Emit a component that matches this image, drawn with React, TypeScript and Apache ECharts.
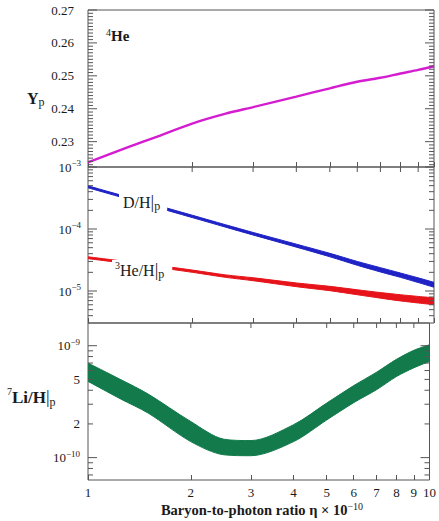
import React, { useEffect, useRef } from "react";
import * as echarts from "echarts";

// ---- data ----
const eta = [1, 1.25, 1.5, 2, 2.5, 3, 4, 5, 6, 7, 8, 9, 10];
const heliumYp = [0.2237, 0.2276, 0.2306, 0.2355, 0.2385, 0.2405, 0.2437, 0.2462, 0.2482, 0.2494, 0.2507, 0.2518, 0.2529];
const deutLow = [4.62e-4, 3.24e-4, 2.42e-4, 1.53e-4, 1.07e-4, 8.0e-5, 5.1e-5, 3.57e-5, 2.6e-5, 2.03e-5, 1.66e-5, 1.37e-5, 1.15e-5];
const deutHigh = [4.97e-4, 3.5e-4, 2.63e-4, 1.67e-4, 1.17e-4, 8.8e-5, 5.7e-5, 4.05e-5, 3.0e-5, 2.38e-5, 1.95e-5, 1.63e-5, 1.38e-5];
const he3Low = [3.327e-5, 2.851e-5, 2.506e-5, 2.004e-5, 1.66e-5, 1.466e-5, 1.175e-5, 1.012e-5, 8.71e-6, 7.67e-6, 6.92e-6, 6.41e-6, 6.01e-6];
const he3High = [3.565e-5, 3.055e-5, 2.698e-5, 2.178e-5, 1.82e-5, 1.637e-5, 1.349e-5, 1.189e-5, 1.047e-5, 9.44e-6, 8.71e-6, 8.18e-6, 7.78e-6];
// 7Li/H in units of 1e-10
const liLow = [4.8, 3.33, 2.5, 1.39, 1.06, 1.04, 1.39, 2.17, 3.1, 4.05, 5.3, 6.35, 7.23];
const liHigh = [7.0, 4.96, 3.7, 2.1, 1.46, 1.42, 1.97, 3.07, 4.4, 5.8, 7.55, 9.1, 10.2];

// tick labels
const xTickLabels = [1, 2, 3, 4, 5, 6, 7, 8, 9, 10];
const heTickLabels = [0.23, 0.24, 0.25, 0.26, 0.27];
const dhTickLabels = [1e-5, 1e-4, 1e-3];
const liTickLabels = [1e-10, 2e-10, 5e-10, 1e-9];

const FONT = "'Liberation Serif', 'Times New Roman', serif";
const AXIS_COLOR = "#555";
const TEXT_COLOR = "#1a1a1a";
const L = Math.log10;
// offset added to log10 values so that all plotted numbers are positive (stacking)
const OFF = 12;
const lg = (v: number) => L(v) + OFF;

const xPos = xTickLabels.map(L);

function logMinors(min: number, max: number) {
  const out: number[] = [];
  for (let d = Math.floor(min) - 1; d <= Math.ceil(max); d++) {
    for (let k = 2; k <= 9; k++) {
      const v = d + L(k);
      if (v > min + 1e-6 && v < max - 1e-6) out.push(v);
    }
  }
  return out;
}

function xAxisFor(g: number, showLabels: boolean) {
  return {
    type: "value",
    gridIndex: g,
    min: 0,
    max: 1,
    position: "bottom",
    splitLine: { show: false },
    axisLine: { show: false, onZero: false },
    axisTick: { show: true, inside: true, length: 5, customValues: xPos, lineStyle: { color: AXIS_COLOR } },
    axisLabel: {
      show: showLabels,
      customValues: xPos,
      formatter: (v: number) => String(Math.round(Math.pow(10, v))),
      margin: 6,
      fontSize: 13,
      fontFamily: FONT,
      color: TEXT_COLOR,
    },
  };
}

function yAxisFor(g: number, min: number, max: number, labels: number[], formatter: (v: number) => string, margin: number, rich?: any) {
  return {
    type: "value",
    gridIndex: g,
    min,
    max,
    position: "left",
    splitLine: { show: false },
    axisLine: { show: false, onZero: false },
    axisTick: { show: false },
    axisLabel: {
      show: true,
      customValues: labels,
      formatter,
      margin,
      fontSize: 13,
      fontFamily: FONT,
      color: TEXT_COLOR,
      rich,
    },
  };
}

const powRich = {
  b: { fontSize: 13, fontFamily: FONT, color: TEXT_COLOR, lineHeight: 17 },
  s: { fontSize: 9, fontFamily: FONT, color: TEXT_COLOR, lineHeight: 9, verticalAlign: "top" },
};

function powLabel(v: number) {
  return `{b|10}{s|−${Math.round(OFF - v)}}`;
}

// Band drawn as a stacked area; rows are [y, x] with encode so that the y value is stacked.
function band(name: string, g: number, low: number[], high: number[], color: string, tf: (v: number) => number) {
  const lowData = eta.map((e, i) => [tf(low[i]), L(e)]);
  const widthData = eta.map((e, i) => [tf(high[i]) - tf(low[i]), L(e)]);
  const common = {
    type: "line",
    xAxisIndex: g,
    yAxisIndex: g,
    encode: { x: 1, y: 0 },
    stack: name,
    smooth: 0.3,
    symbol: "none",
    silent: true,
    lineStyle: { color, width: 1 },
    z: 3,
  };
  return [
    { ...common, name: name + "-low", data: lowData },
    { ...common, name: name + "-band", data: widthData, areaStyle: { color, opacity: 1 } },
  ];
}

// Frame tick marks placed through the axes' scales (api.coord).
// rows: [x, y, len]; len > 0 -> y tick on left and right frame, len < 0 -> x tick hanging from top frame
function tickSeries(g: number, yMajors: number[], yMinors: number[], yMax: number, topX: boolean) {
  const rows: number[][] = [];
  yMajors.forEach((v) => rows.push([0, v, 9]));
  yMinors.forEach((v) => rows.push([0, v, 5]));
  if (topX) xPos.slice(1, -1).forEach((u) => rows.push([u, yMax, -5]));
  return {
    type: "custom",
    xAxisIndex: g,
    yAxisIndex: g,
    silent: true,
    z: 5,
    data: rows,
    renderItem: (_params: any, api: any) => {
      const len = api.value(2);
      if (len > 0) {
        const v = api.value(1);
        const a = api.coord([0, v]);
        const b = api.coord([1, v]);
        return {
          type: "group",
          children: [
            { type: "line", shape: { x1: a[0], y1: a[1], x2: a[0] + len, y2: a[1] }, style: { stroke: AXIS_COLOR, lineWidth: 1 } },
            { type: "line", shape: { x1: b[0] - len, y1: b[1], x2: b[0], y2: b[1] }, style: { stroke: AXIS_COLOR, lineWidth: 1 } },
          ],
        };
      }
      const u = api.value(0);
      const p = api.coord([u, api.value(1)]);
      return {
        type: "group",
        children: [
          { type: "line", shape: { x1: p[0], y1: p[1], x2: p[0], y2: p[1] - len }, style: { stroke: AXIS_COLOR, lineWidth: 1 } },
        ],
      };
    },
  };
}

export default function App() {
  const ref = useRef<HTMLDivElement>(null);

  useEffect(() => {
    if (!ref.current) return;
    const chart = echarts.init(ref.current, undefined, { renderer: "svg" });

    const heMin = 0.2223;
    const heMax = 0.27;
    const heMinors: number[] = [];
    for (let i = 223; i < 270; i++) if (i % 10 !== 0) heMinors.push(i / 1000);

    const dMin = OFF - 5.516;
    const dMax = OFF - 3;
    const liMin = OFF - 10.2;
    const liMax = OFF - 8.797;

    const liFmt = (v: number) => {
      if (Math.abs(v - Math.round(v)) < 1e-6) return powLabel(v);
      return String(Math.round(Math.pow(10, v - OFF + 10)));
    };

    const yAxes = [
      yAxisFor(0, heMin, heMax, heTickLabels, (v) => v.toFixed(2), 14),
      yAxisFor(1, dMin, dMax, dhTickLabels.map(lg), powLabel, 7, powRich),
      yAxisFor(2, liMin, liMax, liTickLabels.map(lg), liFmt, 8, powRich),
    ];

    const xAxes = [xAxisFor(0, false), xAxisFor(1, false), xAxisFor(2, true)];

    const series: any[] = [
      {
        type: "line",
        name: "Yp",
        xAxisIndex: 0,
        yAxisIndex: 0,
        data: eta.map((e, i) => [L(e), heliumYp[i]]),
        smooth: 0.3,
        symbol: "none",
        lineStyle: { color: "#d41cd0", width: 2.4 },
        z: 3,
      },
      ...band("dh", 1, deutLow, deutHigh, "#1f22c4", lg),
      ...band("he3", 1, he3Low, he3High, "#e6141a", lg),
      ...band("li", 2, liLow, liHigh, "#127a4b", (v) => lg(v * 1e-10)),
      tickSeries(0, heTickLabels, heMinors, heMax, false),
      tickSeries(1, dhTickLabels.map(lg), logMinors(dMin, dMax), dMax, true),
      tickSeries(2, [OFF - 10, OFF - 9], logMinors(liMin, liMax), liMax, true),
    ];

    const txt = (extra: any) => ({ type: "text", z: 100, ...extra });
    const gridCommon = { left: 88, width: 346, show: true, borderColor: AXIS_COLOR, borderWidth: 1, backgroundColor: "transparent" };

    const option: any = {
      animation: false,
      grid: [
        { ...gridCommon, top: 10, height: 157 },
        { ...gridCommon, top: 167, height: 156 },
        { ...gridCommon, top: 323, height: 157 },
      ],
      xAxis: xAxes,
      yAxis: yAxes,
      series,
      graphic: {
        elements: [
          txt({
            x: 106,
            y: 36,
            style: {
              text: "{s|4}{b|He}",
              textVerticalAlign: "middle",
              verticalAlign: "middle",
              rich: {
                s: { fontSize: 10, fontFamily: FONT, fill: TEXT_COLOR, verticalAlign: "top", lineHeight: 10 },
                b: { fontSize: 15, fontFamily: FONT, fontWeight: "bold", fill: TEXT_COLOR, lineHeight: 18 },
              },
            },
          }),
          txt({
            x: 27,
            y: 98,
            style: {
              text: "{b|Y}{s|p}",
              textVerticalAlign: "middle",
              verticalAlign: "middle",
              rich: {
                b: { fontSize: 16, fontFamily: FONT, fontWeight: "bold", fill: TEXT_COLOR, lineHeight: 20 },
                s: { fontSize: 12, fontFamily: FONT, fill: TEXT_COLOR, verticalAlign: "bottom", lineHeight: 12 },
              },
            },
          }),
          txt({
            x: 119,
            y: 202,
            style: {
              text: "{b|D/H}{bar||}{s|p}",
              textVerticalAlign: "middle",
              verticalAlign: "middle",
              backgroundColor: "#ffffff",
              padding: [0, 7, 0, 4],
              rich: {
                b: { fontSize: 16, fontFamily: FONT, fill: TEXT_COLOR, lineHeight: 20 },
                bar: { fontSize: 18, fontFamily: FONT, fill: TEXT_COLOR, lineHeight: 20 },
                s: { fontSize: 12, fontFamily: FONT, fill: TEXT_COLOR, verticalAlign: "bottom", lineHeight: 12 },
              },
            },
          }),
          txt({
            x: 112,
            y: 270,
            style: {
              text: "{sup|3}{b|He/H}{bar||}{s|p}",
              textVerticalAlign: "middle",
              verticalAlign: "middle",
              backgroundColor: "#ffffff",
              padding: [0, 8, 0, 3],
              rich: {
                sup: { fontSize: 10, fontFamily: FONT, fill: TEXT_COLOR, verticalAlign: "top", lineHeight: 10 },
                b: { fontSize: 16, fontFamily: FONT, fill: TEXT_COLOR, lineHeight: 20 },
                bar: { fontSize: 18, fontFamily: FONT, fill: TEXT_COLOR, lineHeight: 20 },
                s: { fontSize: 12, fontFamily: FONT, fill: TEXT_COLOR, verticalAlign: "bottom", lineHeight: 12 },
              },
            },
          }),
          txt({
            x: 7,
            y: 397,
            style: {
              text: "{sup|7}{b|Li/H}{bar||}{s|p}",
              textVerticalAlign: "middle",
              verticalAlign: "middle",
              rich: {
                sup: { fontSize: 10, fontFamily: FONT, fill: TEXT_COLOR, verticalAlign: "top", lineHeight: 10 },
                b: { fontSize: 17, fontFamily: FONT, fontWeight: "bold", fill: TEXT_COLOR, lineHeight: 21 },
                bar: { fontSize: 18, fontFamily: FONT, fill: TEXT_COLOR, lineHeight: 21 },
                s: { fontSize: 12, fontFamily: FONT, fill: TEXT_COLOR, verticalAlign: "bottom", lineHeight: 12 },
              },
            },
          }),
          txt({
            x: 262,
            y: 510,
            style: {
              text: "{b|Baryon-to-photon ratio η × 10}{s|−10}",
              textAlign: "center",
              align: "center",
              textVerticalAlign: "middle",
              verticalAlign: "middle",
              rich: {
                b: { fontSize: 14.5, fontFamily: FONT, fontWeight: "bold", fill: TEXT_COLOR, lineHeight: 18 },
                s: { fontSize: 10, fontFamily: FONT, fill: TEXT_COLOR, verticalAlign: "top", lineHeight: 10 },
              },
            },
          }),
        ],
      },
    };

    chart.setOption(option);
    return () => chart.dispose();
  }, []);

  return (
    <div
      ref={ref}
      style={{ position: "absolute", left: 0, top: 0, width: 439, height: 521, background: "#fff" }}
    />
  );
}
